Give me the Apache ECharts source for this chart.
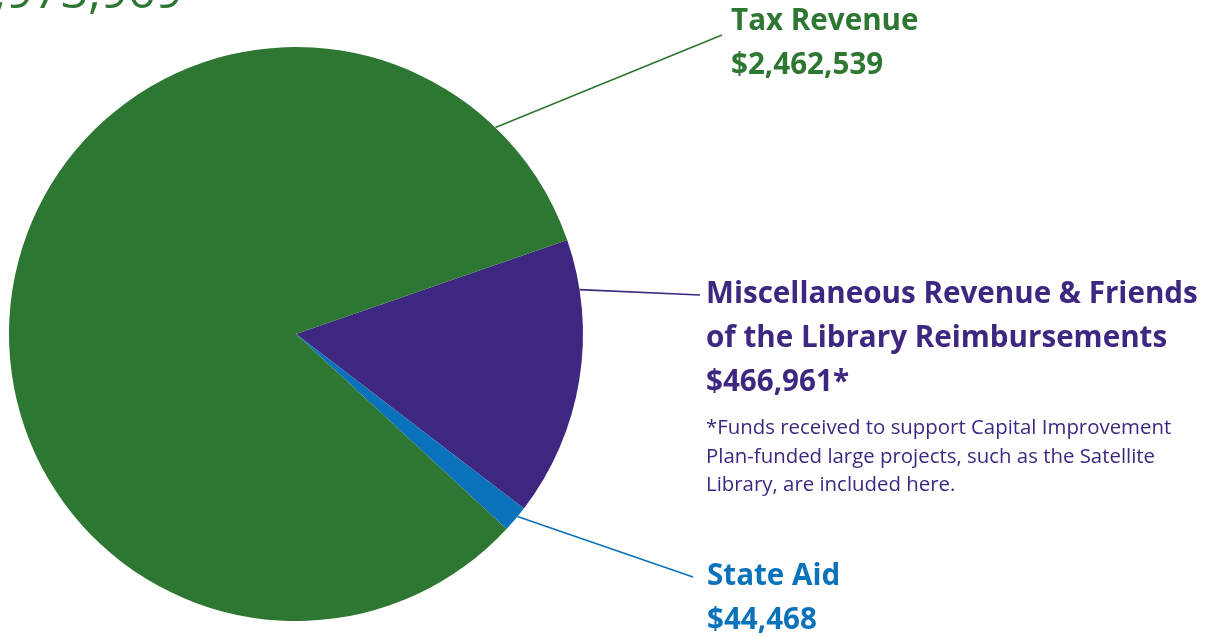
<!DOCTYPE html>
<html>
<head>
<meta charset="utf-8">
<script src="https://cdn.jsdelivr.net/npm/echarts@6/dist/echarts.min.js"></script>
<style>
html,body{margin:0;padding:0;background:#fff;}
#chart{width:1229px;height:637px;}
</style>
</head>
<body>
<div id="chart"></div>
<script>
// ---- data ----
const categories = ['Miscellaneous Revenue & Friends of the Library Reimbursements', 'State Aid', 'Tax Revenue'];
const values = [466961, 44468, 2462539];
const valueSuffix = ['*', '', ''];
const totalText = '$2,973,969';
const noteLines = [
  '*Funds received to support Capital Improvement',
  'Plan-funded large projects, such as the Satellite',
  'Library, are included here.'
];

// ---- styling / layout ----
const colors = ['#3e2780', '#0a72bb', '#2e7732'];
const nameLines = [
  ['Miscellaneous Revenue & Friends', 'of the Library Reimbursements'],
  ['State Aid'],
  ['Tax Revenue']
];
const CX = 296, CY = 334, R = 287;
const labelPos = [ {x: 706, y: 273}, {x: 707, y: 555}, {x: 731, y: 0} ];
const anchorAngle = [8.9, -39.5, 46];
const lineEnd = [ [700, 295], [693, 577], [722, 35] ];
const FONT = 'Open Sans';

const fmt = v => '$' + v.toLocaleString('en-US');

const chart = echarts.init(document.getElementById('chart'), null, {renderer: 'canvas'});

const data = categories.map((c, i) => ({
  name: c,
  value: values[i],
  itemStyle: { color: colors[i] },
  label: { color: colors[i] },
  labelLine: { lineStyle: { color: colors[i] } }
}));

const mkRich = (c) => ({
  name: { fontFamily: FONT, fontWeight: 'bold', fontSize: 29.6, lineHeight: 44, color: c },
  val: { fontFamily: FONT, fontWeight: 'bold', fontSize: 29.6, lineHeight: 44, color: c },
  gap: { fontSize: 4, lineHeight: 9 },
  note: { fontFamily: FONT, fontWeight: 'normal', fontSize: 20.4, lineHeight: 28.5, color: c }
});

data.forEach((d, i) => { d.label.rich = mkRich(colors[i]); });

chart.setOption({
  backgroundColor: '#ffffff',
  animation: false,
  graphic: [{
    type: 'text',
    x: 183, y: -6,
    style: {
      text: totalText,
      fill: '#2e7732',
      font: 'normal 48px "Open Sans"',
      textAlign: 'right',
      textVerticalAlign: 'middle'
    }
  }],
  series: [{
    type: 'pie',
    center: [CX, CY],
    radius: [0, R],
    startAngle: 19.1,
    clockwise: true,
    avoidLabelOverlap: false,
    itemStyle: { borderWidth: 0 },
    emphasis: { disabled: true },
    label: {
      show: true,
      position: 'outside',
      width: 560,
      overflow: 'none',
      align: 'left',
      formatter: (p) => {
        const i = p.dataIndex;
        let s = nameLines[i].map(l => '{name|' + l + '}').join('\n');
        s += '\n{val|' + fmt(p.value) + valueSuffix[i] + '}';
        if (i === 0) {
          s += '\n{gap| }\n' + noteLines.map(l => '{note|' + l + '}').join('\n');
        }
        return s;
      }
    },
    labelLine: { show: true, length: 10, length2: 10, lineStyle: { width: 1.6 } },
    labelLayout: (params) => {
      const i = params.dataIndex;
      const a = anchorAngle[i] * Math.PI / 180;
      const start = [CX + R * Math.cos(a), CY - R * Math.sin(a)];
      const end = lineEnd[i];
      return {
        x: labelPos[i].x,
        y: labelPos[i].y,
        align: 'left',
        verticalAlign: 'top',
        labelLinePoints: [start, end, end]
      };
    },
    data: data
  }]
});
</script>
</body>
</html>
